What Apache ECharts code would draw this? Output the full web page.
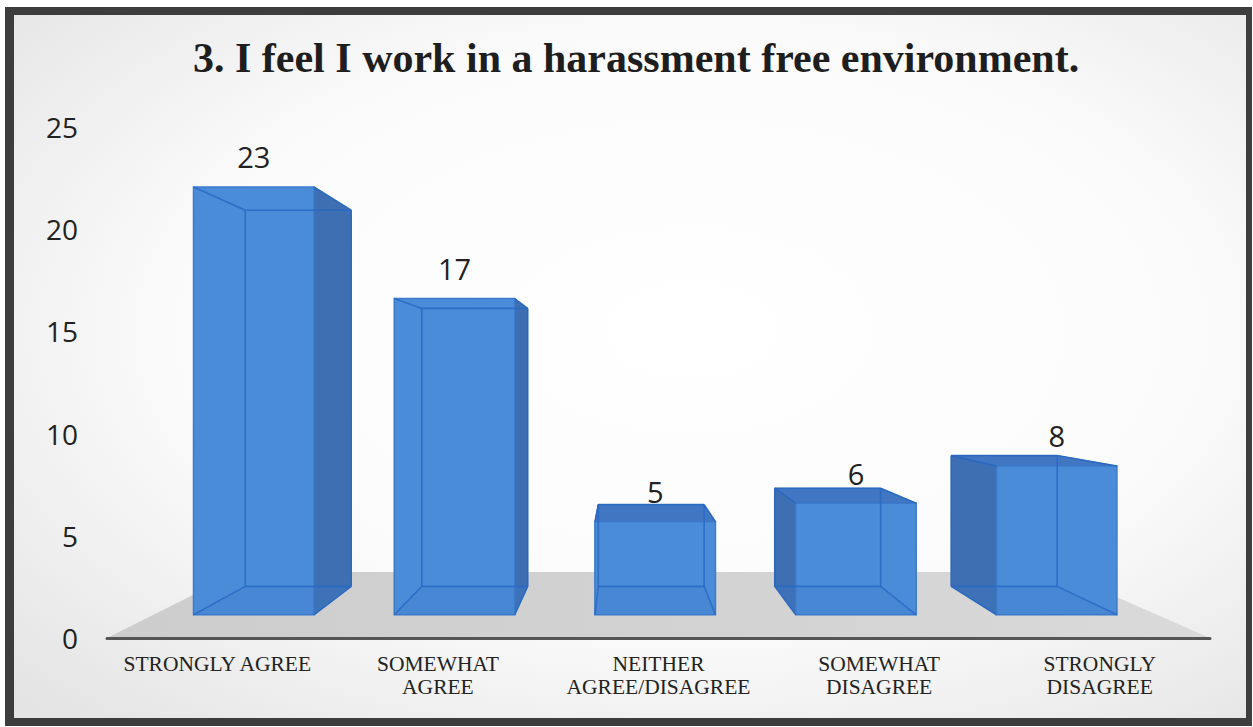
<!DOCTYPE html>
<html>
<head>
<meta charset="utf-8">
<script src="https://cdn.jsdelivr.net/npm/echarts@6/dist/echarts.min.js"></script>
<style>html,body{margin:0;padding:0;background:#fff;}#c{width:1253px;height:727px;}</style>
</head>
<body>
<div id="c"></div>
<script>
const titleText = '3. I feel I work in a harassment free environment.';
const categories = ['STRONGLY AGREE', 'SOMEWHAT\nAGREE', 'NEITHER\nAGREE/DISAGREE', 'SOMEWHAT\nDISAGREE', 'STRONGLY\nDISAGREE'];
const values = [23, 17, 5, 6, 8];
const yMin = 0, yMax = 25, yStep = 5;

// perspective settings (fractions of plot area / depth scales)
const VP_FX = 0.467, VP_FY = 0.495;
const K_FRONT = 0.91, K_BACK = 0.80, K_FLOOR = 0.744;

function proj(vp, x, y, k) { return [vp[0] + k * (x - vp[0]), vp[1] + k * (y - vp[1])]; }

function renderFloor(params, api) {
  const cs = params.coordSys;
  const vp = [cs.x + cs.width * VP_FX, cs.y + cs.height * VP_FY];
  const yb = cs.y + cs.height, xl = cs.x, xr = cs.x + cs.width;
  const pts = [proj(vp, xl, yb, 1), proj(vp, xr, yb, 1), proj(vp, xr, yb, K_FLOOR), proj(vp, xl, yb, K_FLOOR)];
  return {
    type: 'polygon', shape: { points: pts },
    style: { fill: new echarts.graphic.LinearGradient(0, 0, 1, 0, [
      { offset: 0, color: '#cdcdcd' }, { offset: 0.6, color: '#d3d3d3' }, { offset: 1, color: '#dadada' }]) }
  };
}

function renderBar(params, api) {
  const cs = params.coordSys;
  const vp = [cs.x + cs.width * VP_FX, cs.y + cs.height * VP_FY];
  const idx = api.value(0), v = api.value(1);
  const top = api.coord([idx, v]);
  const bot = api.coord([idx, 0]);
  const bw = api.size([1, 0])[0] * 0.6;
  const xl = top[0] - bw / 2, xr = top[0] + bw / 2;
  const yt = top[1], yb = bot[1];
  const F = { lt: proj(vp, xl, yt, K_FRONT), rt: proj(vp, xr, yt, K_FRONT), rb: proj(vp, xr, yb, K_FRONT), lb: proj(vp, xl, yb, K_FRONT) };
  const B = { lt: proj(vp, xl, yt, K_BACK), rt: proj(vp, xr, yt, K_BACK), rb: proj(vp, xr, yb, K_BACK), lb: proj(vp, xl, yb, K_BACK) };
  const inner = 'rgba(40,105,195,0.85)';
  const children = [];
  const leftOfVp = proj(vp, top[0], yt, K_FRONT)[0] < vp[0];
  // outer side face
  const side = leftOfVp ? [F.rt, B.rt, B.rb, F.rb] : [F.lt, B.lt, B.lb, F.lb];
  children.push({ type: 'polygon', shape: { points: side }, style: { fill: '#3e6fb3', stroke: '#33629f', lineWidth: 1 } });
  // top face visible if front top below eye level
  if (F.lt[1] > vp[1]) {
    children.push({ type: 'polygon', shape: { points: [F.lt, F.rt, B.rt, B.lt] }, style: { fill: '#4177c2', stroke: '#3469b3', lineWidth: 1 } });
  }
  // front face
  children.push({ type: 'polygon', shape: { points: [F.lt, F.rt, F.rb, F.lb] }, style: { fill: '#4b8cd9', stroke: '#3b7bcc', lineWidth: 1.5 } });
  // internal edges seen through the transparent box
  const lines = [
    [B.lt, B.rt], [B.rt, B.rb], [B.rb, B.lb], [B.lb, B.lt],
    [F.lt, B.lt], [F.rt, B.rt], [F.rb, B.rb], [F.lb, B.lb]
  ];
  lines.forEach(function (l) {
    children.push({ type: 'line', shape: { x1: l[0][0], y1: l[0][1], x2: l[1][0], y2: l[1][1] }, style: { stroke: inner, lineWidth: 1.6 } });
  });
  // slight floor tint in lower part of box
  children.push({ type: 'polygon', shape: { points: [F.lb, F.rb, B.rb, B.lb] }, style: { fill: 'rgba(60,120,200,0.25)' } });
  // value label
  const mid = proj(vp, top[0], yt, K_FRONT);
  children.push({ type: 'text', style: { text: String(v), x: mid[0], y: mid[1] - 30, align: 'center', verticalAlign: 'middle', fontFamily: 'Open Sans', fontSize: 29, fill: '#222' } });
  return { type: 'group', children: children };
}

const chart = echarts.init(document.getElementById('c'), null, { renderer: 'svg', width: 1253, height: 727 });
chart.setOption({
  animation: false,
  backgroundColor: '#ffffff',
  graphic: [
    { type: 'rect', z: -100, shape: { x: 5, y: 7, width: 1247, height: 719 }, style: { fill: '#3d3d3d' } },
    { type: 'rect', z: -99, shape: { x: 14, y: 15, width: 1232, height: 703 },
      style: { fill: new echarts.graphic.RadialGradient(0.55, 0.45, 0.75, [
        { offset: 0, color: '#ffffff' }, { offset: 0.55, color: '#fbfbfb' }, { offset: 1, color: '#e4e4e4' }]) } }
  ],
  title: {
    text: titleText, left: 188, top: 32,
    textStyle: { fontFamily: 'Liberation Serif', fontWeight: 'bold', fontSize: 42, color: '#1e1e1e' }
  },
  grid: { left: 107, right: 43, top: 127, bottom: 89 },
  xAxis: {
    type: 'category', data: categories, z: 10,
    axisLine: { show: true, lineStyle: { color: '#555', width: 3 } },
    axisTick: { show: false },
    axisLabel: { fontFamily: 'Liberation Serif', fontSize: 21.5, color: '#222', lineHeight: 23, margin: 14, interval: 0 }
  },
  yAxis: {
    type: 'value', min: yMin, max: yMax, interval: yStep,
    splitLine: { show: false }, axisLine: { show: false }, axisTick: { show: false },
    axisLabel: { fontFamily: 'Open Sans', fontSize: 28, color: '#222', margin: 29 }
  },
  series: [
    { type: 'custom', z: 1, renderItem: renderFloor, data: [[0, 0]], silent: true },
    { type: 'custom', z: 3, renderItem: renderBar, data: values.map(function (v, i) { return [i, v]; }) }
  ]
});
</script>
</body>
</html>
